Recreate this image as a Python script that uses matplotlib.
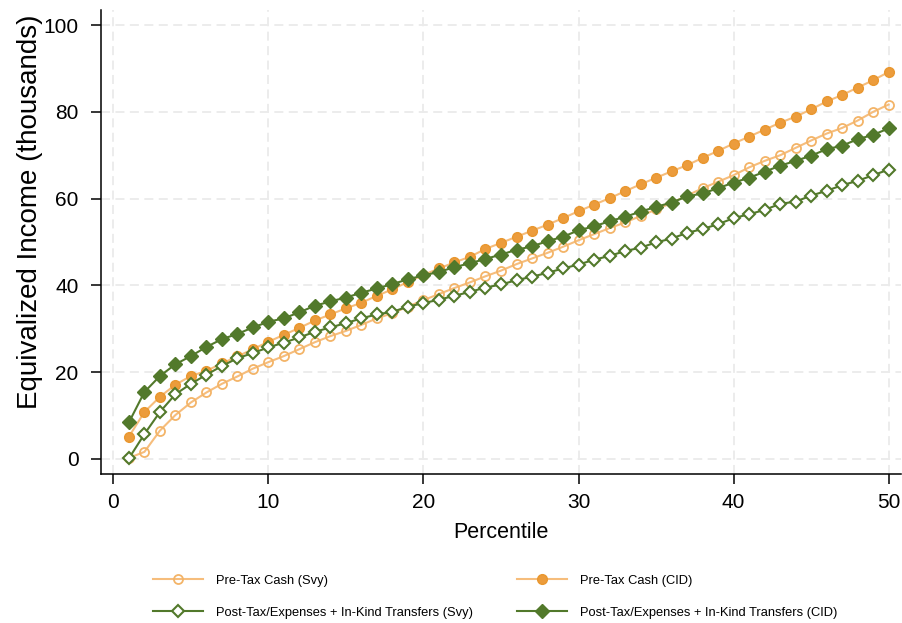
import matplotlib.pyplot as plt

plt.rcParams['font.family'] = ['Liberation Sans', 'DejaVu Sans']

# Percentiles 1..50
percentile = list(range(1, 51))

# Equivalized income (thousands)
pre_tax_svy = [0.2, 1.6, 6.5, 10.1, 13.0, 15.3, 17.3, 19.0, 20.8, 22.3,
               23.7, 25.3, 26.9, 28.3, 29.5, 30.9, 32.4, 33.6, 35.1, 36.6,
               38.0, 39.4, 40.7, 42.1, 43.4, 44.9, 46.2, 47.5, 48.9, 50.4,
               51.8, 53.2, 54.5, 56.0, 57.5, 59.0, 60.7, 62.4, 63.9, 65.4,
               67.2, 68.7, 70.0, 71.7, 73.4, 75.0, 76.3, 78.0, 80.0, 81.7]

pre_tax_cid = [5.1, 10.8, 14.3, 17.1, 19.1, 20.3, 22.0, 23.6, 25.3, 27.0,
               28.6, 30.2, 31.9, 33.3, 34.7, 36.0, 37.6, 39.1, 40.8, 42.4,
               43.9, 45.3, 46.6, 48.4, 49.8, 51.2, 52.6, 54.0, 55.5, 57.1,
               58.6, 60.1, 61.7, 63.3, 64.8, 66.3, 67.7, 69.4, 71.0, 72.7,
               74.3, 75.9, 77.5, 78.9, 80.6, 82.4, 83.9, 85.6, 87.3, 89.2]

post_svy = [0.1, 5.7, 10.8, 14.9, 17.3, 19.4, 21.4, 23.2, 24.4, 25.7,
            26.8, 28.0, 29.3, 30.3, 31.3, 32.4, 33.3, 33.9, 35.1, 35.9,
            36.7, 37.6, 38.5, 39.5, 40.2, 41.2, 42.0, 42.9, 43.9, 44.8,
            45.9, 46.8, 47.9, 48.7, 49.9, 50.8, 52.1, 53.0, 54.1, 55.5,
            56.4, 57.4, 58.8, 59.3, 60.7, 61.8, 63.1, 64.1, 65.4, 66.7]

post_cid = [8.4, 15.4, 19.1, 21.8, 23.7, 25.8, 27.6, 28.8, 30.3, 31.6,
            32.4, 33.8, 35.3, 36.3, 37.2, 38.3, 39.3, 40.3, 41.4, 42.3,
            43.1, 44.2, 45.1, 46.1, 47.1, 48.2, 49.0, 50.2, 51.2, 52.7,
            53.6, 54.8, 55.8, 57.0, 58.1, 59.1, 60.5, 61.2, 62.4, 63.7,
            64.8, 66.2, 67.6, 68.7, 69.9, 71.4, 72.2, 73.7, 74.7, 76.2]

labels = ["Pre-Tax Cash (Svy)",
          "Pre-Tax Cash (CID)",
          "Post-Tax/Expenses + In-Kind Transfers (Svy)",
          "Post-Tax/Expenses + In-Kind Transfers (CID)"]

orange_line = '#F6BD7C'
orange_mark = '#EC9C3C'
green = '#52792B'

fig = plt.figure(figsize=(9.02, 6.23), dpi=100)
ax = fig.add_axes([101 / 902, 149 / 623, 800 / 902, 464 / 623])

h1, = ax.plot(percentile, pre_tax_svy, color=orange_line, lw=1.5,
              marker='o', ms=6.5, mfc='none', mec='#F3B468', mew=1.3)
h2, = ax.plot(percentile, pre_tax_cid, color=orange_line, lw=1.5,
              marker='o', ms=7, mfc=orange_mark, mec='#E9972F', mew=1.0)
h3, = ax.plot(percentile, post_svy, color=green, lw=1.5,
              marker='D', ms=6.5, mfc='white', mec=green, mew=1.5)
h4, = ax.plot(percentile, post_cid, color=green, lw=1.5,
              marker='D', ms=7, mfc=green, mec=green, mew=1.0)

ax.set_xlim(-0.8, 50.8)
ax.set_ylim(-3.5, 103.5)
ax.set_xticks([0, 10, 20, 30, 40, 50])
ax.set_yticks([0, 20, 40, 60, 80, 100])

ax.grid(True, color='#EBEBEB', linestyle=(0, (5, 3)), linewidth=1.3)
ax.set_axisbelow(True)

for s in ['top', 'right']:
    ax.spines[s].set_visible(False)
for s in ['left', 'bottom']:
    ax.spines[s].set_linewidth(1.1)

ax.tick_params(axis='both', direction='out', length=7, width=1.1,
               labelsize=15, color='black')
ax.tick_params(axis='x', pad=7)
ax.tick_params(axis='y', pad=9.2)

ax.set_xlabel("Percentile", fontsize=15.5)
ax.xaxis.set_label_coords(0.5, -0.103)
ax.set_ylabel("Equivalized Income (thousands)", fontsize=20)
ax.yaxis.set_label_coords(-0.072, 0.565)

fig.legend([h1, h3, h2, h4], [labels[0], labels[2], labels[1], labels[3]],
           ncol=2, loc='center', bbox_to_anchor=(495.5 / 902, 0.0425),
           frameon=False, fontsize=9.3, handlelength=3.87, handletextpad=1.0,
           columnspacing=3.4, labelspacing=1.55, borderpad=0)

fig.savefig('out.png', dpi=100)
